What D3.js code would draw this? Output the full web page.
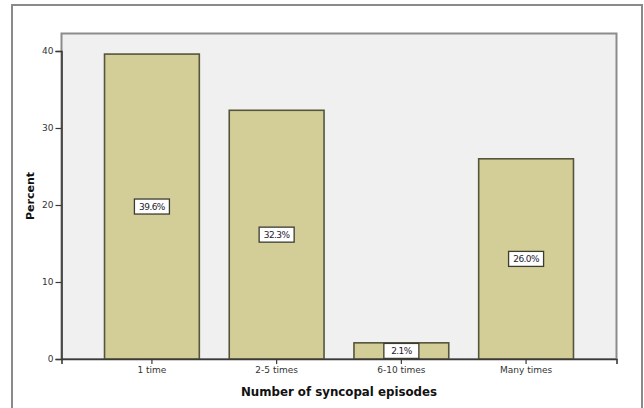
<!DOCTYPE html>
<html>
<head>
<meta charset="utf-8">
<script src="https://cdn.jsdelivr.net/npm/d3@7/dist/d3.min.js"></script>
<style>
  html, body { margin: 0; padding: 0; background: #ffffff; }
  svg { display: block; }
</style>
</head>
<body>
<svg id="chart" width="644" height="408"></svg>
<script>
// Number of syncopal episodes, percent of respondents
const categories = ["1 time", "2-5 times", "6-10 times", "Many times"];
const percents = [39.6, 32.3, 2.1, 26.0];
const valueLabels = ["39.6%", "32.3%", "2.1%", "26.0%"];
const yTicks = [0, 10, 20, 30, 40];

const svg = d3.select("#chart");
const plot = { left: 61.5, top: 33.5, right: 616.5, bottom: 359 };
const font = "'DejaVu Sans', Verdana, sans-serif";

// outer frame
svg.append("rect")
  .attr("x", 12).attr("y", 5)
  .attr("width", 630).attr("height", 410)
  .attr("fill", "#ffffff")
  .attr("stroke", "#8a8a8a").attr("stroke-width", 2);

const x = d3.scaleBand()
  .domain(categories)
  .range([plot.left, plot.right])
  .paddingInner(0.24)
  .paddingOuter(0.345);

const y = d3.scaleLinear()
  .domain([0, 40])
  .range([plot.bottom, plot.bottom - 308]);

// plot background
svg.append("rect")
  .attr("x", plot.left).attr("y", plot.top)
  .attr("width", plot.right - plot.left).attr("height", plot.bottom - plot.top)
  .attr("fill", "#f0f0f0")
  .attr("stroke", "#8c8c8c").attr("stroke-width", 2);

// bars
svg.append("g").selectAll("rect")
  .data(categories)
  .join("rect")
  .attr("x", d => x(d))
  .attr("y", (d, i) => y(percents[i]))
  .attr("width", x.bandwidth())
  .attr("height", (d, i) => y(0) - y(percents[i]))
  .attr("fill", "#d3ce97")
  .attr("stroke", "#55553c").attr("stroke-width", 1.6);

// axes
const yAxis = svg.append("g")
  .attr("transform", `translate(${plot.left},0)`)
  .call(d3.axisLeft(y).tickValues(yTicks).tickSize(6).tickPadding(2));
const xAxis = svg.append("g")
  .attr("transform", `translate(0,${plot.bottom})`)
  .call(d3.axisBottom(x).tickSize(5).tickPadding(3));

[yAxis, xAxis].forEach(g => {
  g.select(".domain").attr("stroke", "#3a3a3a").attr("stroke-width", 1.6);
  g.selectAll(".tick line").attr("stroke", "#3a3a3a").attr("stroke-width", 1.2);
  g.selectAll(".tick text")
    .attr("fill", "#333333")
    .style("font-family", font)
    .style("font-size", "9px");
});

// value labels in boxes at mid-height of each bar
const lab = svg.append("g").selectAll("g")
  .data(categories)
  .join("g")
  .attr("transform", (d, i) =>
    `translate(${x(d) + x.bandwidth() / 2},${(y(0) + y(percents[i])) / 2})`);
lab.append("rect")
  .attr("x", -17.5).attr("y", -7.5)
  .attr("width", 35).attr("height", 15)
  .attr("fill", "#ffffff")
  .attr("stroke", "#3c3c32").attr("stroke-width", 1.3);
lab.append("text")
  .attr("text-anchor", "middle")
  .attr("dy", "0.35em")
  .attr("fill", "#1e2030")
  .style("font-family", font)
  .style("font-size", "9px")
  .style("letter-spacing", "-0.6px")
  .text((d, i) => valueLabels[i]);

// axis titles
svg.append("text")
  .attr("x", (plot.left + plot.right) / 2)
  .attr("y", 396)
  .attr("text-anchor", "middle")
  .attr("fill", "#111111")
  .style("font-family", font)
  .style("font-weight", "bold")
  .style("font-size", "11.8px")
  .text("Number of syncopal episodes");

svg.append("text")
  .attr("transform", "translate(34,196) rotate(-90)")
  .attr("text-anchor", "middle")
  .attr("fill", "#111111")
  .style("font-family", font)
  .style("font-weight", "bold")
  .style("font-size", "11px")
  .text("Percent");
</script>
</body>
</html>
